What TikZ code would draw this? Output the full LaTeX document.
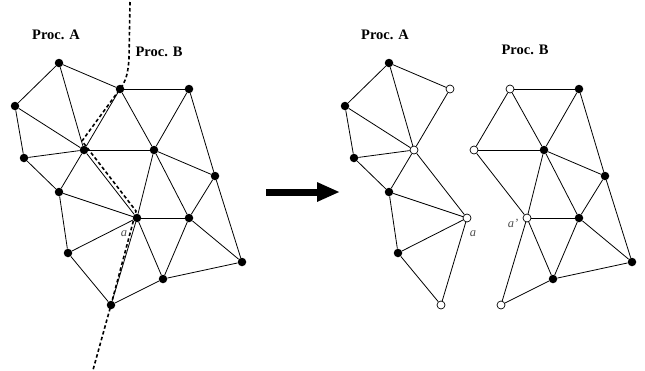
\documentclass[tikz,border=0pt]{standalone}
\usepackage{fontspec}
\setmainfont{Liberation Serif}
\usepackage{tikz}
\usetikzlibrary{arrows.meta}
\definecolor{TagGray}{RGB}{80,80,80}

\begin{document}
\begin{tikzpicture}[x=1pt,y=-1pt,
  vtx/.style={circle,fill=black,inner sep=0pt,minimum size=8.5pt},
  ghost/.style={circle,draw,fill=white,line width=0.7pt,inner sep=0pt,minimum size=8pt},
  edge/.style={line width=0.8pt},
  cut/.style={line width=1.6pt,dash pattern=on 3.5pt off 2.5pt},
  proc/.style={font=\bfseries\fontsize{14.5}{16}\selectfont},
  tag/.style={font=\itshape\fontsize{12.5}{14}\selectfont,text=TagGray}]
\useasboundingbox (0,0) rectangle (645,370);
% original mesh
\foreach \n/\x/\y in %
{1/59/63,2/15/106,3/120/89,4/189/89,5/84/150,6/24/158,7/154/150,8/215/176,
 9/59/192,10/137/218,11/189/218,12/68/253,13/242/262,14/163/279,15/111/305} {
   \node[vtx] (v\n) at (\x,\y) {};
}
\foreach \a/\b in %
{1/2,1/3,1/5,2/5,2/6,6/5,6/9,5/3,5/7,5/9,5/10,3/4,3/7,4/7,4/8,7/8,7/10,7/11,
 8/11,8/13,9/10,9/12,10/12,10/11,10/14,10/15,11/14,11/13,14/13,12/15,15/14} {
   \draw[edge] (v\a) -- (v\b);
}
\coordinate (cuttop) at (130,2);
\coordinate (cutbot) at (93,370);
\draw[cut] (cuttop) -- (129,58) .. controls (128,76) and (125,82) .. (v3.center)
   -- (82,141) -- (136,211) -- (v15.center) -- (cutbot);
\node[proc] (lprocA) at (56,35) {Proc. A};
\node[proc] (lprocB) at (159,52) {Proc. B};
\node[tag] (la) at (124,234) {a};
% arrow
\coordinate (arrs) at (266,192);
\coordinate (arre) at (340,192);
\draw[line width=7pt,-{Triangle[length=23pt,width=18pt]}] (arrs) -- (arre);
% part A
\begin{scope}[shift={(330,0)},name prefix=pa-]
\foreach \n/\x/\y in {1/59/63,2/15/106,6/24/158,9/59/192,12/68/253} {
   \node[vtx] (v\n) at (\x,\y) {};
}
\foreach \n/\x/\y in {3/120/89,5/84/150,10/137/218,15/111/305} {
   \node[ghost] (v\n) at (\x,\y) {};
}
\foreach \a/\b in %
{1/2,1/3,1/5,2/5,2/6,6/5,6/9,5/3,5/9,5/10,9/10,9/12,10/12,10/15,12/15} {
   \draw[edge] (v\a) -- (v\b);
}
\node[proc] (procA) at (55,35) {Proc. A};
\node[tag] (ta) at (143,234) {a};
\end{scope}
% part B
\begin{scope}[shift={(390,0)},name prefix=pb-]
\foreach \n/\x/\y in {4/189/89,7/154/150,8/215/176,11/189/218,13/242/262,14/163/279} {
   \node[vtx] (v\n) at (\x,\y) {};
}
\foreach \n/\x/\y in {3/120/89,5/84/150,10/137/218,15/111/305} {
   \node[ghost] (v\n) at (\x,\y) {};
}
\foreach \a/\b in %
{3/4,3/7,3/5,4/7,4/8,5/7,5/10,7/8,7/10,7/11,8/11,8/13,10/11,10/14,10/15,
 11/14,11/13,14/13,15/14} {
   \draw[edge] (v\a) -- (v\b);
}
\node[proc] (procB) at (135,50) {Proc. B};
\node[tag] (tb) at (123,223) {a'};
\end{scope}
\end{tikzpicture}
\end{document}
